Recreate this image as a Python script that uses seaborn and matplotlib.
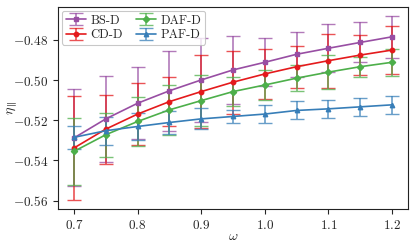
import numpy as np
import matplotlib
matplotlib.use("Agg")
import matplotlib.pyplot as plt
import seaborn as sns

omega = [0.7, 0.75, 0.8, 0.85, 0.9, 0.95, 1.0, 1.05, 1.1, 1.15, 1.2]

bs_mean = [-0.5288, -0.5193, -0.5115, -0.5053, -0.4999, -0.4949, -0.4911, -0.4871, -0.4841, -0.4812, -0.4784]
bs_err = [0.0242, 0.0216, 0.0180, 0.0200, 0.0210, 0.0170, 0.0120, 0.0112, 0.0120, 0.0100, 0.0105]

cd_mean = [-0.5338, -0.5244, -0.5169, -0.5107, -0.5057, -0.5010, -0.4969, -0.4933, -0.4903, -0.4875, -0.4850]
cd_err = [0.0258, 0.0172, 0.0155, 0.0122, 0.0182, 0.0157, 0.0124, 0.0105, 0.0135, 0.0100, 0.0118]

daf_mean = [-0.5355, -0.5272, -0.5206, -0.5148, -0.5102, -0.5057, -0.5024, -0.4990, -0.4960, -0.4933, -0.4911]
daf_err = [0.0168, 0.0110, 0.0120, 0.0124, 0.0128, 0.0072, 0.0077, 0.0064, 0.0085, 0.0050, 0.0066]

paf_mean = [-0.5285, -0.5252, -0.5231, -0.5211, -0.5193, -0.5181, -0.5169, -0.5151, -0.5143, -0.5133, -0.5123]
paf_err = [0.0056, 0.0070, 0.0065, 0.0056, 0.0052, 0.0031, 0.0046, 0.0045, 0.0045, 0.0045, 0.0045]

labels = ["BS-D", "CD-D", "DAF-D", "PAF-D"]
yticks = [-0.56, -0.54, -0.52, -0.50, -0.48]
xticks = [0.7, 0.8, 0.9, 1.0, 1.1, 1.2]

sns.set_theme(style="ticks")
plt.rcParams["font.family"] = ["serif"]
plt.rcParams["font.serif"] = ["cmr10", "DejaVu Serif"]
plt.rcParams["mathtext.fontset"] = "cm"
plt.rcParams["axes.formatter.use_mathtext"] = True
plt.rcParams["axes.unicode_minus"] = True

pal = sns.color_palette("Set1")
colors = [pal[3], pal[0], pal[2], pal[1]]
markers = ["s", "o", "D", "^"]

fig = plt.figure(figsize=(4.15, 2.47), dpi=100)
ax = fig.add_axes([0.14, 0.154, 0.843, 0.818])

series = [(bs_mean, bs_err), (cd_mean, cd_err), (daf_mean, daf_err), (paf_mean, paf_err)]
for (m, e), lab, c, mk in zip(series, labels, colors, markers):
    cont = ax.errorbar(omega, m, yerr=e, color=c, marker=mk, markersize=3.2,
                       linewidth=1.2, elinewidth=1.2, capsize=5, capthick=1.0,
                       label=lab)
    for cap in cont[1]:
        cap.set_alpha(0.75)
    for bar in cont[2]:
        bar.set_alpha(0.75)

ax.set_xticks(xticks)
ax.set_xticklabels([f"${t:.1f}$" for t in xticks])
ax.set_yticks(yticks)
ax.set_yticklabels([f"$-{abs(t):.2f}$" for t in yticks])
ax.set_ylim(-0.5642, -0.4635)
ax.set_xlim(0.675, 1.225)
ax.tick_params(labelsize=9.5, length=3.5, width=0.8)
ax.set_xlabel(r"$\omega$", fontsize=10)
ax.set_ylabel(r"$\eta_{\parallel}$", fontsize=10)
ax.yaxis.set_label_coords(-0.112, 0.5)
ax.xaxis.set_label_coords(0.5, -0.11)
for s in ax.spines.values():
    s.set_linewidth(0.8)
    s.set_color("#222222")

leg = ax.legend(loc="upper left", ncol=2, fontsize=9, frameon=True,
                handlelength=1.6, columnspacing=1.0, labelspacing=0.2,
                borderpad=0.3, handletextpad=0.4, borderaxespad=0.3)
leg.get_frame().set_edgecolor("#bbbbbb")
leg.get_frame().set_linewidth(0.8)

fig.savefig("out.png", dpi=100)
